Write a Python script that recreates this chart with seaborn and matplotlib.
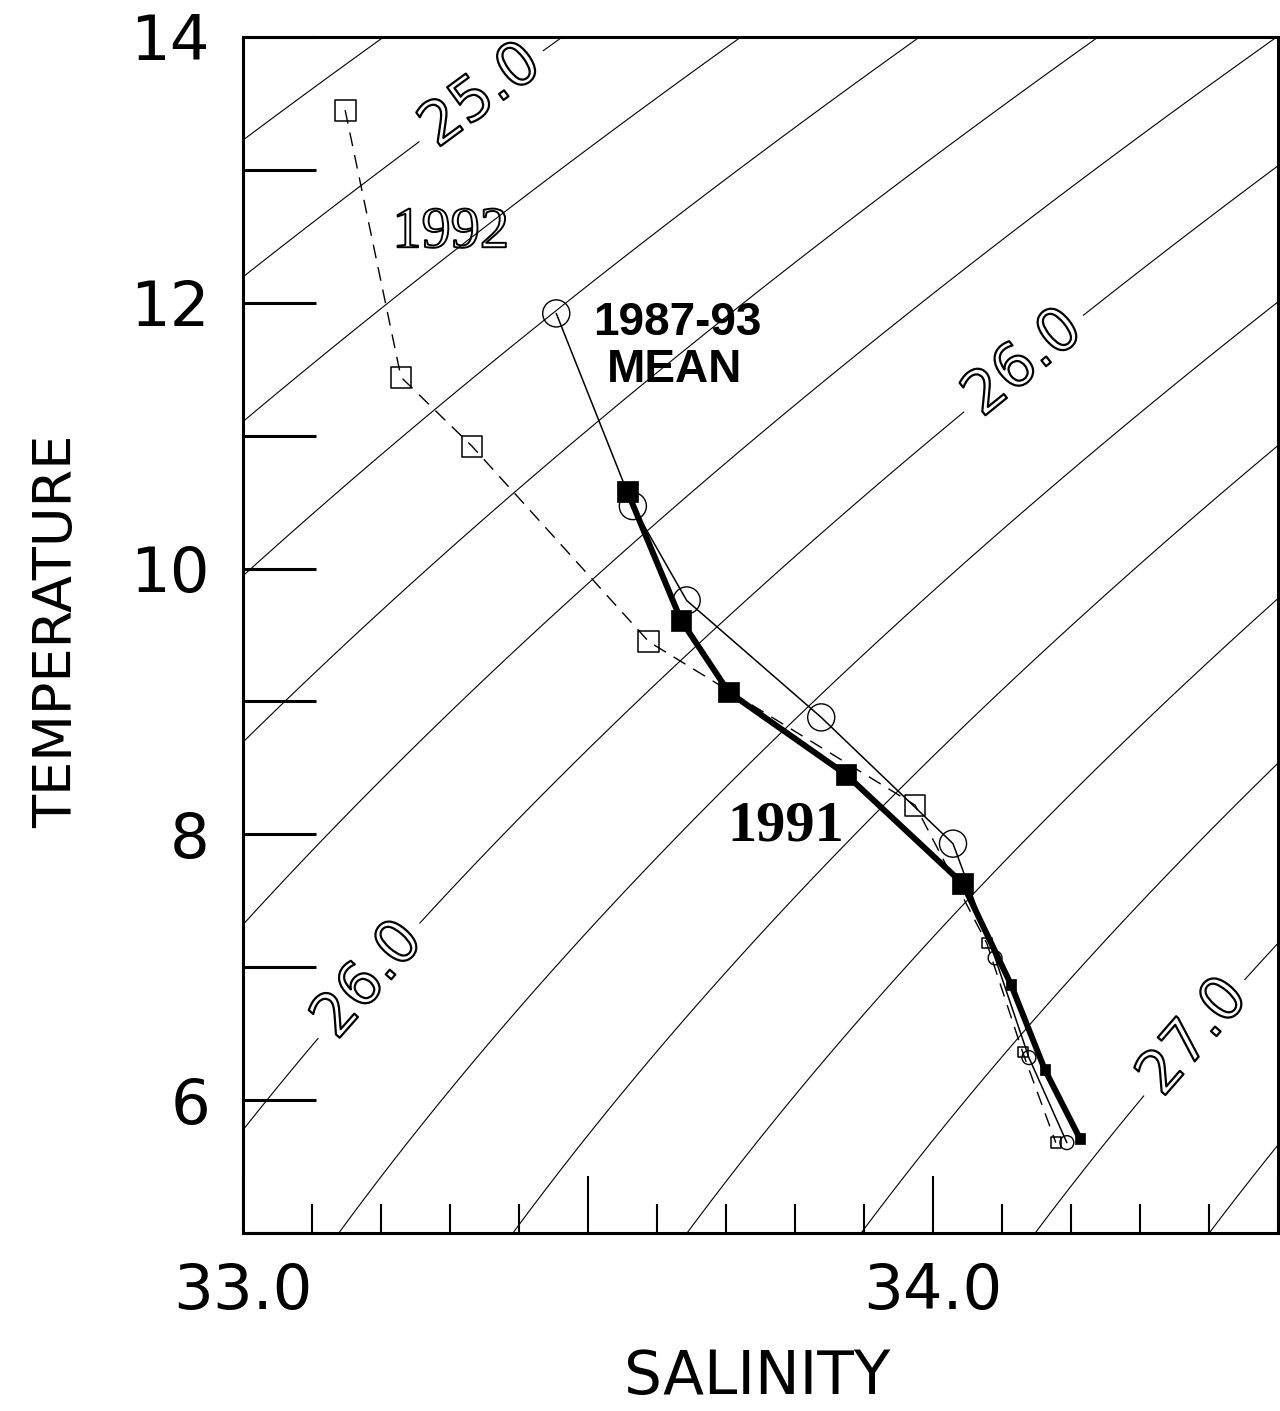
import numpy as np
import pandas as pd
import matplotlib
matplotlib.use("Agg")
import matplotlib.pyplot as plt
import matplotlib.patheffects as pe
from matplotlib import font_manager
from matplotlib.ticker import FixedLocator, FixedFormatter, MultipleLocator
import seaborn as sns

# --- profile data (salinity, temperature) ---
sal_1992 = [33.148, 33.229, 33.332, 33.588, 33.974, 34.078, 34.130, 34.178]
temp_1992 = [13.45, 11.44, 10.92, 9.45, 8.22, 7.18, 6.36, 5.68]

sal_mean = [33.454, 33.565, 33.643, 33.838, 34.029, 34.090, 34.139, 34.194]
temp_mean = [11.92, 10.47, 9.76, 8.88, 7.93, 7.07, 6.32, 5.68]

sal_1991 = [33.557, 33.635, 33.704, 33.874, 34.043, 34.113, 34.162, 34.213]
temp_1991 = [10.58, 9.61, 9.07, 8.45, 7.63, 6.87, 6.23, 5.71]

# deeper levels are plotted with smaller symbols
deep_level = [False, False, False, False, False, True, True, True]

# sigma-t isopycnals
sigma_levels = [round(v, 1) for v in np.arange(24.0, 27.81, 0.2)]
sigma_labelled = [25.0, 26.0, 27.0]
sigma_label_pos = [(33.350, 13.52), (34.130, 11.55), (33.180, 6.91), (34.383, 6.45)]

# axis ticks
x_major = [33.0, 33.5, 34.0, 34.5]
x_major_labels = ["33.0", "", "34.0", ""]
y_major = [5, 6, 7, 8, 9, 10, 11, 12, 13, 14]
y_major_labels = ["", "6", "", "8", "", "10", "", "12", "", "14"]


def sigma_t(s, t):
    """UNESCO (1980) density at the sea surface, minus 1000 kg/m3."""
    rho_w = (999.842594 + 6.793952e-2 * t - 9.095290e-3 * t**2
             + 1.001685e-4 * t**3 - 1.120083e-6 * t**4 + 6.536332e-9 * t**5)
    a = (0.824493 - 4.0899e-3 * t + 7.6438e-5 * t**2
         - 8.2467e-7 * t**3 + 5.3875e-9 * t**4)
    b = -5.72466e-3 + 1.0227e-4 * t - 1.6546e-6 * t**2
    c = 4.8314e-4
    return rho_w + a * s + b * s**1.5 + c * s**2 - 1000.0


sns.set_theme(style="white")
plt.rcParams["font.family"] = ["DejaVu Sans"]
plt.rcParams["axes.edgecolor"] = "black"

installed = {f.name for f in font_manager.fontManager.ttflist}
if "Liberation Sans Narrow" in installed:
    ylabel_font = {"family": ["Liberation Sans Narrow"], "size": 47}
else:
    ylabel_font = {"family": ["DejaVu Sans"], "size": 39}

fig = plt.figure(figsize=(12.8, 14.11), dpi=100)
ax = fig.add_axes([243 / 1280, 178 / 1411, 1035 / 1280, 1196 / 1411])
ax.set_xlim(33.0, 34.5)
ax.set_ylim(5.0, 14.0)

# isopycnal background: plain contours, then the labelled ones
sg, tg = np.meshgrid(np.linspace(32.9, 34.6, 400), np.linspace(4.8, 14.2, 400))
sig = sigma_t(sg, tg)
plain_levels = [v for v in sigma_levels if v not in sigma_labelled]
ax.contour(sg, tg, sig, levels=plain_levels, colors="black",
           linewidths=0.8, zorder=1)
cs_lab = ax.contour(sg, tg, sig, levels=sigma_labelled, colors="black",
                    linewidths=0.8, zorder=1)
clabels = ax.clabel(cs_lab, manual=sigma_label_pos, inline=True,
                    inline_spacing=10, fmt="%.1f", fontsize=43)
for lab in clabels:
    lab.set_color("none")
    lab.set_path_effects([pe.withStroke(linewidth=1.6, foreground="black")])

# profiles
df_1992 = pd.DataFrame({"S": sal_1992, "T": temp_1992, "deep": deep_level})
df_mean = pd.DataFrame({"S": sal_mean, "T": temp_mean, "deep": deep_level})
df_1991 = pd.DataFrame({"S": sal_1991, "T": temp_1991, "deep": deep_level})

sns.lineplot(data=df_1992, x="S", y="T", sort=False, estimator=None,
             color="black", linewidth=1.0, linestyle=(0, (10, 6.5)),
             legend=False, ax=ax, zorder=3)
sns.scatterplot(data=df_1992, x="S", y="T", marker="s",
                s=np.where(df_1992["deep"], 55, 225),
                facecolor="none", edgecolor="black", linewidth=1.1,
                legend=False, ax=ax, zorder=3)

sns.lineplot(data=df_mean, x="S", y="T", sort=False, estimator=None,
             color="black", linewidth=1.1, legend=False, ax=ax, zorder=4)
sns.scatterplot(data=df_mean, x="S", y="T", marker="o",
                s=np.where(df_mean["deep"], 100, 380),
                facecolor="none", edgecolor="black", linewidth=1.0,
                legend=False, ax=ax, zorder=4)

sns.lineplot(data=df_1991, x="S", y="T", sort=False, estimator=None,
             color="black", linewidth=4.3, legend=False, ax=ax, zorder=5)
sns.scatterplot(data=df_1991, x="S", y="T", marker="s",
                s=np.where(df_1991["deep"], 55, 220),
                color="black", edgecolor="black", linewidth=0.5,
                legend=False, ax=ax, zorder=5)

# series annotations
ax.text(33.301, 12.418, "1992", family=["Liberation Serif"], fontsize=42,
        ha="center", va="baseline", color="none", zorder=2,
        path_effects=[pe.withStroke(linewidth=1.4, foreground="black")])
ax.text(33.629, 11.756, "1987-93", family=["Liberation Sans"], fontsize=33,
        fontweight="bold", ha="center", va="baseline", color="black", zorder=6)
ax.text(33.626, 11.403, "MEAN", family=["Liberation Sans"], fontsize=33,
        fontweight="bold", ha="center", va="baseline", color="black", zorder=6)
ax.text(33.786, 7.956, "1991", family=["Liberation Serif"], fontsize=42,
        fontweight="bold", ha="center", va="baseline", color="black", zorder=6)

# axes styling
for side in ["left", "right", "top", "bottom"]:
    ax.spines[side].set_visible(True)
    ax.spines[side].set_color("black")
    ax.spines[side].set_linewidth(2.2)

ax.xaxis.set_major_locator(FixedLocator(x_major))
ax.xaxis.set_major_formatter(FixedFormatter(x_major_labels))
ax.xaxis.set_minor_locator(MultipleLocator(0.1))
ax.yaxis.set_major_locator(FixedLocator(y_major))
ax.yaxis.set_major_formatter(FixedFormatter(y_major_labels))

ax.tick_params(axis="x", which="major", direction="in", length=41, width=1.5,
               pad=21, labelsize=45, colors="black", bottom=True, top=False)
ax.tick_params(axis="x", which="minor", direction="in", length=21, width=1.5,
               bottom=True, top=False, colors="black")
ax.tick_params(axis="y", which="major", direction="in", length=52.5, width=2.2,
               pad=23.8, labelsize=45, colors="black", left=True, right=False)

ax.set_xlabel("SALINITY", fontsize=43, color="black")
ax.xaxis.set_label_coords(0.4966, -0.096)
ax.set_ylabel("TEMPERATURE", fontdict=ylabel_font, color="black")
ax.yaxis.set_label_coords(-0.154, 0.503)

fig.savefig("out.png", dpi=100, facecolor="white")
